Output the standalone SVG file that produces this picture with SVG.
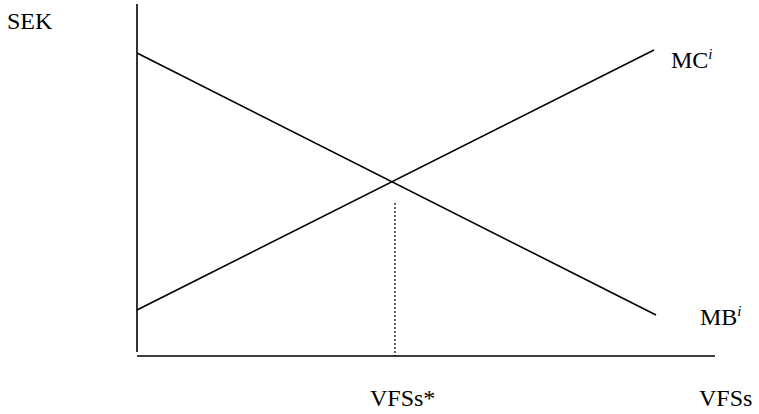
<svg xmlns="http://www.w3.org/2000/svg" width="759" height="414" viewBox="0 0 759 414">
<style>
.ax{stroke:#000;stroke-width:1.6;fill:none}
.cv{stroke:#000;stroke-width:1.6;fill:none}
.dot{stroke:#000;stroke-width:1.2;stroke-dasharray:2,2;fill:none}
text{font-family:"Liberation Serif","Times New Roman",serif;font-size:24px;fill:#000}
.sup{font-size:15px;font-style:italic}
</style>
<rect width="759" height="414" fill="#fff"/>
<g id="axes">
<line class="ax" x1="137" y1="4" x2="137" y2="352"/>
<line class="ax" x1="137" y1="356" x2="715" y2="356"/>
</g>
<g id="connectors">
<line class="cv" x1="137" y1="53" x2="656" y2="315"/>
<line class="cv" x1="137" y1="310" x2="654" y2="50"/>
<line class="dot" x1="395" y1="203" x2="395" y2="356"/>
</g>
<g id="labels">
<text x="7" y="29">SEK</text>
<text x="671" y="68">MC<tspan class="sup" dy="-9">i</tspan></text>
<text x="700" y="325">MB<tspan class="sup" dy="-9">i</tspan></text>
<text x="370" y="406">VFSs*</text>
<text x="699" y="406">VFSs</text>
</g>
</svg>
